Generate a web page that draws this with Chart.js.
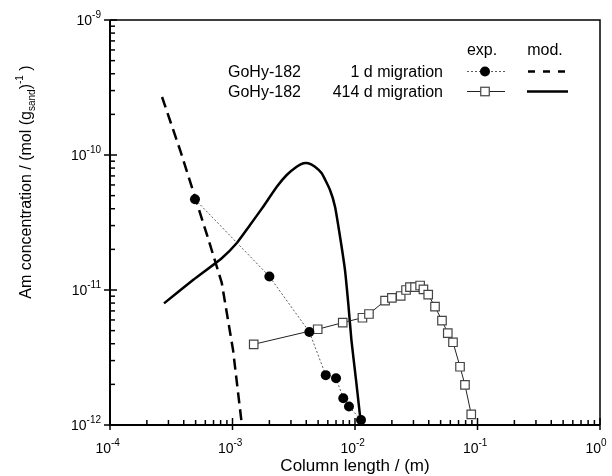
<!DOCTYPE html>
<html><head><meta charset="utf-8">
<script src="https://cdn.jsdelivr.net/npm/chart.js@4"></script>
<style>html,body{margin:0;padding:0;background:#fff;}</style>
</head><body>
<canvas id="c" width="612" height="476" style="width:612px;height:476px;display:block"></canvas>
<script>
// ---- data (column length in m, Am concentration in mol/g_sand) ----
const exp1dX = [4.94e-4, 2.0e-3, 4.24e-3, 5.77e-3, 7.0e-3, 8.02e-3, 8.93e-3, 1.12e-2];
const exp1dY = [4.70e-11, 1.26e-11, 4.89e-12, 2.34e-12, 2.22e-12, 1.58e-12, 1.37e-12, 1.09e-12];

const exp414dX = [1.49e-3, 4.96e-3, 7.94e-3, 1.15e-2, 1.30e-2, 1.76e-2, 2.0e-2, 2.36e-2, 2.61e-2, 2.81e-2, 3.09e-2,
  3.40e-2, 3.62e-2, 3.96e-2, 4.50e-2, 5.13e-2, 5.72e-2, 6.31e-2, 7.2e-2, 7.9e-2, 8.89e-2];
const exp414dY = [3.96e-12, 5.12e-12, 5.73e-12, 6.23e-12, 6.64e-12, 8.33e-12, 8.73e-12, 9.03e-12, 1.0e-11, 1.05e-11, 1.05e-11,
  1.08e-11, 1.01e-11, 9.23e-12, 7.52e-12, 5.93e-12, 4.80e-12, 4.10e-12, 2.70e-12, 1.98e-12, 1.20e-12];

const mod1dX = [2.66e-4, 3.73e-4, 4.94e-4, 6.2e-4, 8.17e-4, 1.01e-3, 1.19e-3, 1.23e-3];
const mod1dY = [2.69e-10, 1.09e-10, 4.89e-11, 2.55e-11, 1.13e-11, 3.6e-12, 1.02e-12, 7.7e-13];

const mod414dX = [2.76e-4, 4.79e-4, 8.17e-4, 1.08e-3, 1.39e-3, 1.78e-3, 2.30e-3, 2.77e-3, 3.34e-3, 3.79e-3, 4.16e-3,
  4.71e-3, 5.35e-3, 6.25e-3, 6.87e-3, 7.55e-3, 8.28e-3, 8.81e-3, 9.35e-3, 1.02e-2, 1.12e-2, 1.14e-2];
const mod414dY = [7.96e-12, 1.19e-11, 1.72e-11, 2.22e-11, 3.03e-11, 4.14e-11, 5.82e-11, 7.11e-11, 8.19e-11, 8.68e-11, 8.68e-11,
  8.19e-11, 7.32e-11, 5.51e-11, 4.14e-11, 2.48e-11, 1.41e-11, 7.96e-12, 4.26e-12, 2.15e-12, 1.0e-12, 8.4e-13];

const xTickValues = [1e-4, 1e-3, 1e-2, 1e-1, 1];
const xTickExps = ["-4", "-3", "-2", "-1", "0"];
const yTickValues = [1e-12, 1e-11, 1e-10, 1e-9];
const yTickExps = ["-12", "-11", "-10", "-9"];

const legendHeaders = ["exp.", "mod."];
const legendNames = ["GoHy-182", "GoHy-182"];
const legendLabels = ["1 d migration", "414 d migration"];

const xTitle = "Column length / (m)";

function pts(xs, ys) { return xs.map((x, i) => ({x: x, y: ys[i]})); }

const FONT = '"Liberation Sans", Arial, sans-serif';

const axesPlugin = {
  id: 'axesPlugin',
  afterDraw(chart) {
    const ctx = chart.ctx;
    const a = chart.chartArea;
    const xs = chart.scales.x, ys = chart.scales.y;
    ctx.save();
    ctx.strokeStyle = '#000';
    ctx.fillStyle = '#000';
    // frame
    ctx.lineWidth = 1.5;
    ctx.beginPath();
    ctx.moveTo(a.left, a.top); ctx.lineTo(a.right, a.top); ctx.lineTo(a.right, a.bottom);
    ctx.stroke();
    ctx.lineWidth = 2;
    ctx.beginPath();
    ctx.moveTo(a.left, a.top); ctx.lineTo(a.left, a.bottom); ctx.lineTo(a.right, a.bottom);
    ctx.stroke();
    // x ticks
    ctx.lineWidth = 1.5;
    for (let d = -4; d <= 0; d++) {
      for (let m = 1; m <= 9; m++) {
        const v = m * Math.pow(10, d);
        if (v > 1.0000001) break;
        const px = xs.getPixelForValue(v);
        ctx.beginPath();
        if (m === 1) { ctx.moveTo(px, a.bottom + 5); ctx.lineTo(px, a.bottom - 7); }
        else { ctx.moveTo(px, a.bottom); ctx.lineTo(px, a.bottom - 5); }
        ctx.stroke();
      }
    }
    // y ticks
    for (let d = -12; d <= -9; d++) {
      for (let m = 1; m <= 9; m++) {
        const v = m * Math.pow(10, d);
        if (v > 1.0000001e-9) break;
        const py = ys.getPixelForValue(v);
        ctx.beginPath();
        if (m === 1) { ctx.moveTo(a.left - 6, py); ctx.lineTo(a.left + 7, py); }
        else { ctx.moveTo(a.left, py); ctx.lineTo(a.left + 5, py); }
        ctx.stroke();
      }
    }
    // x tick labels
    ctx.textBaseline = 'alphabetic';
    xTickValues.forEach((v, i) => {
      const px = xs.getPixelForValue(v);
      ctx.font = '14px ' + FONT;
      ctx.textAlign = 'right';
      ctx.fillText('10', px + 1, a.bottom + 28);
      ctx.font = '10px ' + FONT;
      ctx.textAlign = 'left';
      ctx.fillText(xTickExps[i], px + 1, a.bottom + 21);
    });
    // y tick labels
    yTickValues.forEach((v, i) => {
      const py = ys.getPixelForValue(v);
      ctx.font = '10px ' + FONT;
      const ew = ctx.measureText(yTickExps[i]).width;
      ctx.textAlign = 'left';
      ctx.fillText(yTickExps[i], a.left - 9 - ew, py - 2);
      ctx.font = '14px ' + FONT;
      ctx.textAlign = 'right';
      ctx.fillText('10', a.left - 9 - ew, py + 5);
    });
    // x title
    ctx.font = '17px ' + FONT;
    ctx.textAlign = 'center';
    ctx.fillText(xTitle, (a.left + a.right) / 2, 471);
    // y title with sub/superscripts
    const segs = [
      {t: 'Am concentration / (mol (g', f: 16, dy: 0},
      {t: 'sand', f: 10, dy: 4},
      {t: ')', f: 16, dy: 0},
      {t: '-1', f: 10, dy: -8},
      {t: ' )', f: 16, dy: 0}
    ];
    let W = 0;
    segs.forEach(s => { ctx.font = s.f + 'px ' + FONT; s.w = ctx.measureText(s.t).width; W += s.w; });
    ctx.translate(31, 182);
    ctx.rotate(-Math.PI / 2);
    ctx.textAlign = 'left';
    let cx = -W / 2;
    segs.forEach(s => { ctx.font = s.f + 'px ' + FONT; ctx.fillText(s.t, cx, s.dy); cx += s.w; });
    ctx.restore();

    // legend
    ctx.save();
    ctx.fillStyle = '#000';
    ctx.font = '16px ' + FONT;
    ctx.textAlign = 'center';
    ctx.fillText(legendHeaders[0], 482, 55);
    ctx.fillText(legendHeaders[1], 545, 55);
    const rowsY = [76.5, 96.5];
    for (let r = 0; r < 2; r++) {
      ctx.textAlign = 'left';
      ctx.fillText(legendNames[r], 228, rowsY[r]);
      ctx.textAlign = 'right';
      ctx.fillText(legendLabels[r], 443, rowsY[r]);
    }
    // row 1 samples
    let ly = 71.5;
    ctx.strokeStyle = '#333'; ctx.lineWidth = 0.8; ctx.setLineDash([2, 2]);
    ctx.beginPath(); ctx.moveTo(467, ly); ctx.lineTo(505, ly); ctx.stroke();
    ctx.setLineDash([]);
    ctx.beginPath(); ctx.arc(485, ly, 5, 0, Math.PI * 2); ctx.fill();
    ctx.strokeStyle = '#000'; ctx.lineWidth = 2.5; ctx.setLineDash([7, 8]);
    ctx.beginPath(); ctx.moveTo(528, ly); ctx.lineTo(568, ly); ctx.stroke();
    ctx.setLineDash([]);
    // row 2 samples
    ly = 91.5;
    ctx.strokeStyle = '#222'; ctx.lineWidth = 1;
    ctx.beginPath(); ctx.moveTo(467, ly); ctx.lineTo(505, ly); ctx.stroke();
    ctx.fillStyle = '#fff'; ctx.strokeStyle = '#444'; ctx.lineWidth = 1.2;
    ctx.fillRect(480.75, ly - 4.25, 8.5, 8.5); ctx.strokeRect(480.75, ly - 4.25, 8.5, 8.5);
    ctx.strokeStyle = '#000'; ctx.lineWidth = 2.5;
    ctx.beginPath(); ctx.moveTo(527, ly); ctx.lineTo(568, ly); ctx.stroke();
    ctx.restore();
  }
};

new Chart(document.getElementById('c'), {
  type: 'scatter',
  data: {
    datasets: [
      {
        label: 'exp 1 d', data: pts(exp1dX, exp1dY), showLine: true,
        borderColor: '#333', borderWidth: 0.8, borderDash: [2, 2],
        pointRadius: 5, pointBackgroundColor: '#000', pointBorderColor: '#000', pointBorderWidth: 0
      },
      {
        label: 'exp 414 d', data: pts(exp414dX, exp414dY), showLine: true,
        borderColor: '#222', borderWidth: 1,
        pointStyle: 'rect', pointRadius: 6, pointBackgroundColor: '#fff', pointBorderColor: '#444', pointBorderWidth: 1.2
      },
      {
        label: 'mod 1 d', data: pts(mod1dX, mod1dY), showLine: true,
        borderColor: '#000', borderWidth: 2.5, borderDash: [11, 6], pointRadius: 0
      },
      {
        label: 'mod 414 d', data: pts(mod414dX, mod414dY), showLine: true,
        borderColor: '#000', borderWidth: 2.5, pointRadius: 0, tension: 0.15
      }
    ]
  },
  options: {
    responsive: false,
    animation: false,
    devicePixelRatio: 1,
    layout: {padding: {left: 110, right: 12, top: 20, bottom: 51}},
    scales: {
      x: {type: 'logarithmic', min: 1e-4, max: 1, display: false},
      y: {type: 'logarithmic', min: 1e-12, max: 1e-9, display: false}
    },
    plugins: {legend: {display: false}, tooltip: {enabled: false}}
  },
  plugins: [axesPlugin]
});
</script>
</body></html>
